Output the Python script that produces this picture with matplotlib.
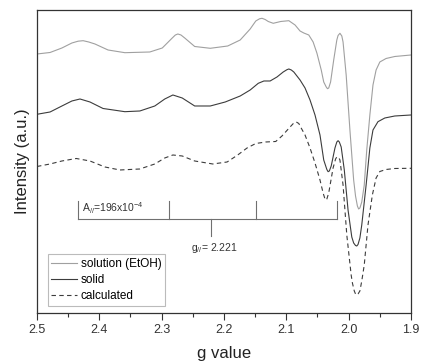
import matplotlib
matplotlib.use('Agg')
import matplotlib.pyplot as plt
from matplotlib.ticker import MultipleLocator

plt.rcParams['font.family'] = ['Liberation Sans', 'DejaVu Sans']
plt.rcParams['mathtext.fontset'] = 'custom'
plt.rcParams['mathtext.rm'] = 'Liberation Sans'
plt.rcParams['mathtext.it'] = 'Liberation Sans:italic'

# spectra (g value, intensity in a.u., stacked)
g_solution = [2.500, 2.479, 2.460, 2.444, 2.434, 2.426, 2.417, 2.407, 2.386, 2.359,
              2.319, 2.299, 2.283, 2.278, 2.274, 2.269, 2.263, 2.247, 2.222, 2.194,
              2.174, 2.158, 2.149, 2.143, 2.139, 2.134, 2.129, 2.121, 2.109, 2.096,
              2.086, 2.078, 2.072, 2.064, 2.057, 2.051, 2.044, 2.040, 2.036, 2.034,
              2.032, 2.029, 2.024, 2.019, 2.017, 2.014, 2.011, 2.009, 2.004, 1.998,
              1.992, 1.989, 1.986, 1.984, 1.982, 1.979, 1.975, 1.971, 1.966, 1.961,
              1.956, 1.950, 1.940, 1.926, 1.900]
i_solution = [259, 260.5, 265, 270, 271.8, 272.3, 271, 269, 263, 260.3,
              261, 265, 275, 278, 279, 278, 275, 266.5, 264.7, 267,
              273, 284, 292, 294.2, 294.7, 293.5, 291.5, 289.7, 291.5, 292.3,
              288, 282, 280, 278, 271, 260, 243, 231, 226, 224.3,
              225, 231, 253, 273, 277.5, 279.7, 277, 271, 238, 183,
              133, 117, 107, 104, 105, 111, 128, 163, 198, 228,
              243, 251, 254.5, 256.5, 258]

g_solid = [2.500, 2.479, 2.460, 2.444, 2.431, 2.415, 2.394, 2.359, 2.335, 2.311,
           2.295, 2.282, 2.267, 2.247, 2.222, 2.198, 2.174, 2.158, 2.145, 2.136,
           2.126, 2.115, 2.105, 2.099, 2.096, 2.092, 2.088, 2.078, 2.070, 2.062,
           2.054, 2.046, 2.040, 2.035, 2.033, 2.031, 2.028, 2.022, 2.019, 2.017,
           2.015, 2.012, 2.007, 2.001, 1.995, 1.992, 1.989, 1.987, 1.985, 1.982,
           1.979, 1.972, 1.966, 1.961, 1.953, 1.942, 1.926, 1.900]
i_solid = [198.7, 201, 207, 212, 214, 211, 204.5, 201.3, 202, 207,
           214, 218, 215, 207, 207, 211, 217, 223, 229.7, 232,
           232, 236, 241, 243.3, 244, 243, 241, 233, 225, 213,
           198, 178, 153, 143.5, 141.3, 142, 147, 165, 171, 172.3,
           171, 166, 143, 103, 76, 70, 67.5, 67, 68.5, 75,
           88, 128, 165, 183, 191.3, 195, 197, 198]

g_calc = [2.500, 2.479, 2.460, 2.437, 2.415, 2.391, 2.367, 2.335, 2.311, 2.295,
          2.282, 2.267, 2.247, 2.218, 2.195, 2.178, 2.163, 2.149, 2.133, 2.117,
          2.107, 2.094, 2.088, 2.084, 2.080, 2.078, 2.070, 2.062, 2.054, 2.046,
          2.041, 2.038, 2.037, 2.035, 2.032, 2.025, 2.021, 2.019, 2.016, 2.014,
          2.009, 2.003, 1.996, 1.994, 1.991, 1.989, 1.987, 1.985, 1.982, 1.979,
          1.975, 1.969, 1.962, 1.956, 1.950, 1.940, 1.926, 1.900]
i_calc = [146.5, 149, 152, 154.5, 152, 146, 143, 144, 149, 155,
          158, 157, 152, 149, 151, 158, 165, 169.5, 171, 171.5,
          177, 186, 190, 191, 189.5, 187, 178, 165, 150, 133,
          120, 114, 113, 114, 120, 145, 154, 156, 155.5, 153,
          128, 78, 38, 30, 22, 19, 18, 19, 22, 32,
          48, 88, 118, 135, 141.5, 143.5, 144.5, 144.7]

# hyperfine stick diagram
g_sticks = [2.434, 2.288, 2.148, 2.018]
g_par = 2.221
stick_base = 94
stick_top = 111.5
center_bottom = 77

fig = plt.figure(figsize=(4.32, 3.62), dpi=100)
ax = fig.add_axes([0.0856, 0.1354, 0.8658, 0.8370])

ax.plot(g_solution, i_solution, color='#a0a0a0', lw=0.8, label='solution (EtOH)')
ax.plot(g_solid, i_solid, color='#3c3c3c', lw=0.8, label='solid')
ax.plot(g_calc, i_calc, color='#3c3c3c', lw=0.8, ls=(0, (4, 3)), label='calculated')

stick_col = '#707070'
ax.plot([g_sticks[0], g_sticks[-1]], [stick_base, stick_base], color=stick_col, lw=0.8)
for g in g_sticks:
    ax.plot([g, g], [stick_base, stick_top], color=stick_col, lw=0.8)
ax.plot([g_par, g_par], [stick_base, center_bottom], color=stick_col, lw=0.8)

ax.text(2.427, 104.7, r'A$_{//}$=196x10$^{-4}$', fontsize=7.5, va='center', ha='left', color='#333333')
ax.text(2.2534, 64.7, r'g$_{//}$= 2.221', fontsize=7.5, va='center', ha='left', color='#333333')

ax.set_xlim(2.5, 1.9)
ax.set_ylim(0, 303)
ax.xaxis.set_major_locator(MultipleLocator(0.1))
ax.xaxis.set_minor_locator(MultipleLocator(0.05))
ax.tick_params(axis='x', which='major', direction='out', length=5, width=0.8,
               labelsize=9, colors='#333333', pad=3)
ax.tick_params(axis='x', which='minor', direction='out', length=3, width=0.8, colors='#333333')
ax.set_yticks([])
for sp in ax.spines.values():
    sp.set_color('#333333')
    sp.set_linewidth(0.9)

ax.set_xlabel('g value', fontsize=12, color='#222222', labelpad=7)
ax.set_ylabel('Intensity (a.u.)', fontsize=12, color='#222222', labelpad=5)

leg = ax.legend(loc='lower left', bbox_to_anchor=(0.029, 0.024), borderaxespad=0,
                fontsize=8.5, handlelength=2.2, handletextpad=0.3, labelspacing=0.35,
                fancybox=False, frameon=True, borderpad=0.3)
leg.get_frame().set_edgecolor('#aaaaaa')
leg.get_frame().set_linewidth(0.8)

plt.savefig('out.png', dpi=100)
